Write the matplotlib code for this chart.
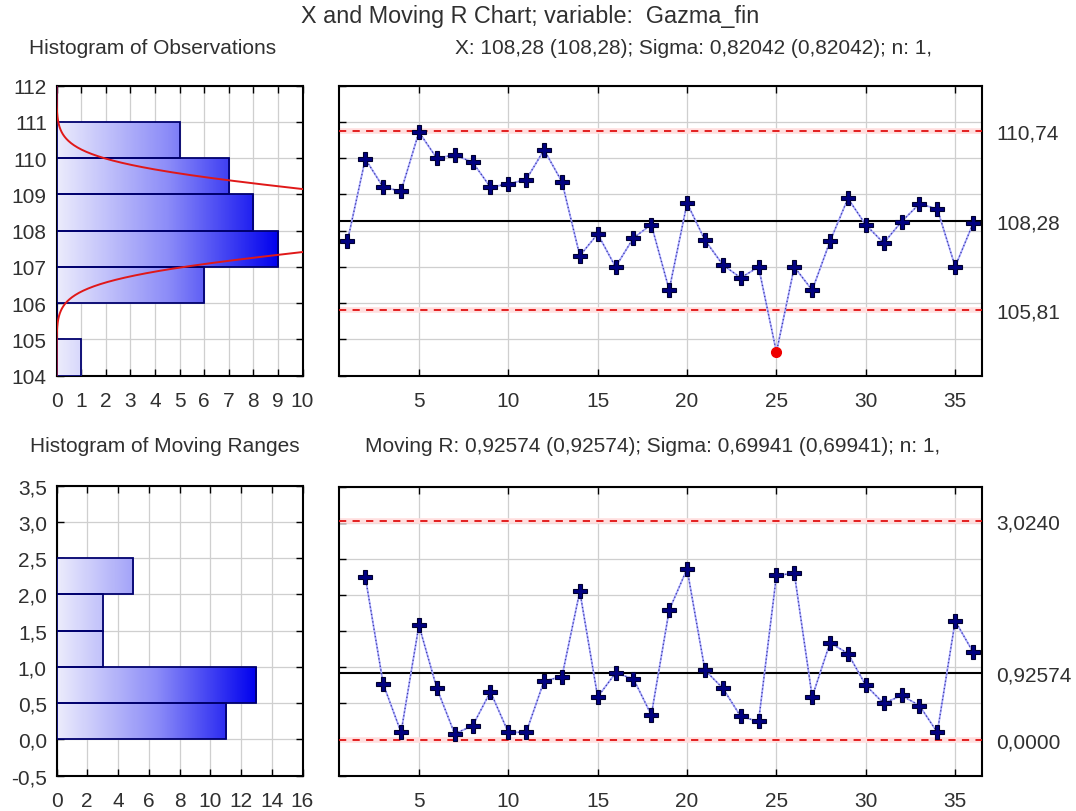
import numpy as np
import matplotlib
matplotlib.use("Agg")
import matplotlib.pyplot as plt
from matplotlib.colors import LinearSegmentedColormap
from matplotlib.ticker import FuncFormatter

plt.rcParams['font.family'] = ['Liberation Sans', 'DejaVu Sans']

# ---------------- data ----------------
samples = list(range(1, 37))
x_values = [107.71, 109.98, 109.20, 109.09, 110.72, 110.00, 110.09, 109.89, 109.20, 109.29,
            109.41, 110.23, 109.35, 107.31, 107.91, 107.00, 107.80, 108.17, 106.37, 108.76,
            107.74, 107.06, 106.70, 107.00, 104.65, 107.00, 106.36, 107.71, 108.89, 108.16,
            107.66, 108.25, 108.74, 108.60, 107.01, 108.20]
out_of_control = [25]

mr_samples = list(range(2, 37))
mr_values = [2.25, 0.77, 0.10, 1.58, 0.71, 0.08, 0.19, 0.66, 0.10, 0.10,
             0.81, 0.87, 2.05, 0.59, 0.92, 0.84, 0.34, 1.79, 2.36, 0.96,
             0.71, 0.32, 0.25, 2.27, 2.30, 0.59, 1.34, 1.19, 0.75, 0.50,
             0.61, 0.47, 0.10, 1.64, 1.21]

obs_bin_edges = [104, 105, 106, 107, 108, 109, 110, 111, 112]
obs_counts = [1, 0, 6, 9, 8, 7, 5, 0]
mr_bin_edges = [0.0, 0.5, 1.0, 1.5, 2.0, 2.5]
mr_counts = [11, 13, 3, 3, 5]

x_mean, x_sigma = 108.28, 0.82042
x_ucl, x_lcl = 110.74, 105.81
mr_mean, mr_sigma = 0.92574, 0.69941
mr_ucl, mr_lcl = 3.0240, 0.0

x_limit_values = [x_ucl, x_mean, x_lcl]
x_limit_labels = ['110,74', '108,28', '105,81']
mr_limit_values = [mr_ucl, mr_mean, mr_lcl]
mr_limit_labels = ['3,0240', '0,92574', '0,0000']

obs_hist_xticks = list(range(0, 11))
obs_hist_yticks = list(range(104, 113))
mr_hist_xticks = list(range(0, 17, 2))
mr_hist_yticks = [-0.5, 0.0, 0.5, 1.0, 1.5, 2.0, 2.5, 3.0, 3.5]
chart_xticks = [5, 10, 15, 20, 25, 30, 35]

title = 'X and Moving R Chart; variable:  Gazma_fin'
hist1_title = 'Histogram of Observations'
hist2_title = 'Histogram of Moving Ranges'
x_sub = 'X: 108,28 (108,28); Sigma: 0,82042 (0,82042); n: 1,'
mr_sub = 'Moving R: 0,92574 (0,92574); Sigma: 0,69941 (0,69941); n: 1,'

# ---------------- figure ----------------
W, H = 1076, 812
fig = plt.figure(figsize=(W / 100, H / 100), dpi=100)
fig.patch.set_facecolor('white')

def rect(l, r, t, b):
    return [l / W, 1 - b / H, (r - l) / W, (b - t) / H]

ax_h1 = fig.add_axes(rect(56.5, 302.5, 86.7, 376.7))
ax_x = fig.add_axes(rect(338.5, 982, 86.7, 376.7))
ax_h2 = fig.add_axes(rect(56.5, 302.5, 486.7, 776.7))
ax_mr = fig.add_axes(rect(338.5, 982, 487.5, 776.7))

TXT = '#303030'
FS = 15
GRID = '#cfcfcf'
cmap = LinearSegmentedColormap.from_list('g', ['#ececfc', '#8c8cf8', '#0000ee'])
comma1 = FuncFormatter(lambda v, p: ('%.1f' % v).replace('.', ','))

def style(ax):
    for s in ax.spines.values():
        s.set_linewidth(1.5)
        s.set_color('black')
    ax.tick_params(direction='in', length=5, width=1, top=True, right=True,
                   labelsize=FS, labelcolor=TXT)
    ax.tick_params(axis='x', pad=11)
    ax.tick_params(axis='y', pad=7)
    ax.grid(True, color=GRID, lw=0.9)
    ax.set_axisbelow(True)

def gradient_hist(ax, edges, counts, xmax):
    edges = np.asarray(edges, float)
    bars = ax.barh(edges[:-1], counts, height=np.diff(edges), align='edge',
                   facecolor='none', edgecolor='#00006e', lw=1.3, zorder=4)
    grad = np.linspace(0, 1, 256).reshape(1, -1)
    for b, c in zip(bars, counts):
        if c <= 0:
            continue
        y0 = b.get_y()
        im = ax.imshow(grad, cmap=cmap, extent=(0, xmax, y0, y0 + b.get_height()),
                       aspect='auto', origin='lower', zorder=3, interpolation='bilinear')
        im.set_clip_path(b)

# ---- histogram of observations ----
style(ax_h1)
gradient_hist(ax_h1, obs_bin_edges, obs_counts, max(obs_counts))
yy = np.linspace(104, 112, 400)
n_obs = sum(obs_counts)
curve = n_obs * 1.0 * np.exp(-0.5 * ((yy - x_mean) / x_sigma) ** 2) / (x_sigma * np.sqrt(2 * np.pi))
ax_h1.plot(curve, yy, color='#e01818', lw=1.4, zorder=5, clip_on=True)
ax_h1.set_xlim(0, 10)
ax_h1.set_ylim(104, 112)
ax_h1.set_xticks(obs_hist_xticks)
ax_h1.set_yticks(obs_hist_yticks)

# ---- histogram of moving ranges ----
style(ax_h2)
gradient_hist(ax_h2, mr_bin_edges, mr_counts, max(mr_counts))
ax_h2.set_xlim(0, 16)
ax_h2.set_ylim(-0.5, 3.5)
ax_h2.set_xticks(mr_hist_xticks)
ax_h2.set_yticks(mr_hist_yticks)
ax_h2.yaxis.set_major_formatter(comma1)

# ---- control charts ----
def control_chart(ax, xs, ys, lims, labels, ylim, yticks, red=()):
    style(ax)
    ax.set_xlim(0.5, 36.5)
    ax.set_ylim(*ylim)
    ax.set_xticks(chart_xticks)
    ax.set_yticks(yticks)
    ax.tick_params(labelleft=False)
    ucl, cl, lcl = lims
    ax.axhline(cl, color='black', lw=1.5, zorder=3)
    for v in (ucl, lcl):
        ax.axhline(v, color='#ffdede', lw=4, zorder=2)
        ax.axhline(v, color='#e01010', lw=1.3, ls=(0, (4, 3.5)), zorder=3)
    ax.plot(xs, ys, color='#a8a8ff', lw=1.3, zorder=4)
    ax.plot(xs, ys, color='#3a3aa0', lw=0.9, ls=(0, (1, 2)), zorder=4)
    normal = [(x, y) for x, y in zip(xs, ys) if x not in red]
    bad = [(x, y) for x, y in zip(xs, ys) if x in red]
    ax.plot([p[0] for p in normal], [p[1] for p in normal], ls='none', marker='P',
            ms=10, mfc='#000080', mec='#000030', mew=0.8, zorder=5)
    if bad:
        ax.plot([p[0] for p in bad], [p[1] for p in bad], ls='none', marker='o',
                ms=7, mfc='#ee0000', mec='#ee0000', zorder=5)
    tw = ax.twinx()
    tw.set_ylim(*ylim)
    tw.set_yticks(lims)
    tw.set_yticklabels(labels)
    tw.tick_params(length=0, labelsize=FS, labelcolor=TXT, pad=10)
    for s in tw.spines.values():
        s.set_visible(False)

control_chart(ax_x, samples, x_values, x_limit_values, x_limit_labels,
              (104, 112), list(range(104, 113)), red=out_of_control)
control_chart(ax_mr, mr_samples, mr_values, mr_limit_values, mr_limit_labels,
              (-0.5, 3.5), mr_hist_yticks)

# ---- texts ----
def ftext(x, y, s, ha='left', fs=15):
    fig.text(x / W, 1 - y / H, s, ha=ha, va='center', fontsize=fs, color=TXT)

ftext(530, 17, title, ha='center', fs=16.8)
ftext(29, 49, hist1_title, fs=15)
ftext(455, 49, x_sub, fs=15)
ftext(30, 447, hist2_title, fs=15)
ftext(365, 447, mr_sub, fs=15)

fig.savefig('out.png', dpi=100, facecolor='white')
